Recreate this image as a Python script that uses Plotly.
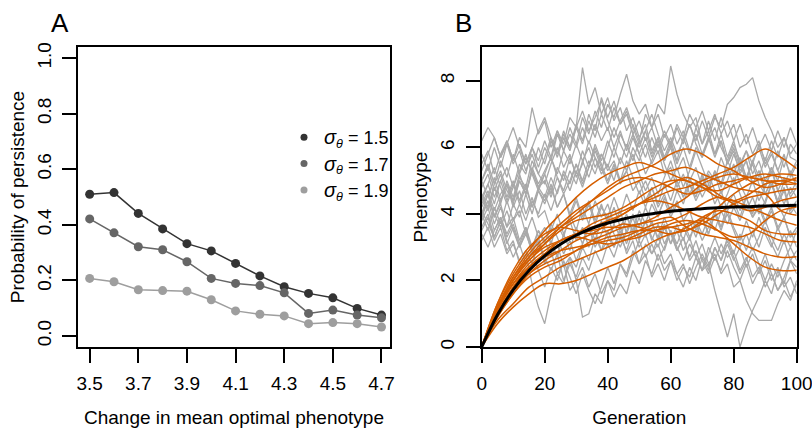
import plotly.graph_objects as go

# ---------------- Panel A data ----------------
change = [3.5, 3.6, 3.7, 3.8, 3.9, 4.0, 4.1, 4.2, 4.3, 4.4, 4.5, 4.6, 4.7]
p_15 = [0.510, 0.516, 0.441, 0.385, 0.332, 0.306, 0.261, 0.216, 0.177, 0.153, 0.137, 0.099, 0.075]
p_17 = [0.421, 0.371, 0.321, 0.310, 0.267, 0.207, 0.189, 0.181, 0.155, 0.081, 0.093, 0.075, 0.065]
p_19 = [0.207, 0.195, 0.166, 0.163, 0.161, 0.130, 0.090, 0.078, 0.072, 0.044, 0.048, 0.044, 0.032]
labels_A = ["1.5", "1.7", "1.9"]
colors_A = ["#333333", "#666666", "#9e9e9e"]
xticks_A = [3.5, 3.7, 3.9, 4.1, 4.3, 4.5, 4.7]
yticks_A = [0.0, 0.2, 0.4, 0.6, 0.8, 1.0]

# ---------------- Panel B data ----------------
# gray trajectories, one value every 2 generations (0..100)
gray_lines = [
    [4.5,4.9,4.3,5.0,5.4,4.8,5.5,5.2,6.0,5.6,6.2,5.7,6.5,6.1,6.9,6.6,8.4,7.3,7.8,7.0,7.5,6.8,7.2,6.5,6.9,6.3,6.7,5.9,6.3,5.6,6.0,5.3,5.7,5.0,5.4,4.8,5.3,5.0,5.7,5.2,5.8,5.3,5.6,4.9,5.3,4.8,5.4,5.0,5.7,5.2,5.6],
    [4.0,4.6,3.9,4.4,4.9,4.3,5.0,4.6,5.3,4.8,5.2,4.6,5.4,5.0,5.7,5.2,5.9,5.4,6.1,5.6,6.2,5.7,6.4,6.0,6.7,6.2,7.0,6.6,7.3,7.0,8.45,7.6,7.0,6.6,6.9,6.1,6.5,5.8,6.2,5.5,5.9,5.2,5.6,4.9,5.3,4.6,5.0,4.3,4.8,4.1,4.4],
    [5.0,5.4,4.7,5.2,4.5,5.0,4.4,4.9,4.2,4.8,4.5,5.1,4.6,5.3,4.9,5.5,5.0,5.6,5.2,5.8,5.4,6.0,5.5,6.1,5.6,6.2,5.7,6.3,5.8,6.4,6.0,6.6,6.1,6.7,6.2,6.8,6.3,6.9,6.6,7.3,7.5,7.8,7.9,8.1,7.4,6.9,6.5,6.0,6.3,5.7,5.6],
    [4.0,3.5,4.2,3.7,4.4,3.8,4.1,3.4,3.9,3.3,3.6,3.1,3.7,3.3,4.0,3.5,4.2,3.7,4.4,3.9,4.3,3.7,4.1,3.4,3.9,3.3,3.8,3.2,3.7,3.1,3.5,2.9,3.3,2.6,2.9,2.3,2.5,1.7,1.0,0.3,1.0,0.0,0.6,1.1,1.5,2.0,1.6,2.3,1.9,2.6,2.4],
    [3.5,3.9,3.2,3.6,2.9,3.2,2.5,2.8,1.9,1.2,0.7,1.6,2.2,1.9,2.7,2.4,3.0,2.6,3.3,2.9,3.5,3.0,3.6,3.1,3.7,3.2,3.8,3.3,3.0,3.6,3.1,3.7,3.2,3.8,3.3,3.9,3.4,4.0,3.5,4.1,3.6,3.2,3.8,3.3,3.9,3.4,3.0,3.6,3.1,3.5,3.0],
    [4.2,4.6,3.9,4.3,3.6,3.9,3.2,3.6,2.9,3.2,2.5,2.9,2.2,2.5,1.7,2.0,0.9,1.0,1.6,1.3,2.0,1.7,2.5,2.2,2.9,2.5,3.1,2.8,3.3,2.9,3.5,3.1,3.6,3.2,3.8,3.4,3.9,3.5,4.1,3.7,4.2,3.8,4.3,3.9,4.2,3.7,4.1,3.5,3.9,3.3,3.6],
    [4.8,5.2,4.5,5.0,4.4,4.9,4.3,4.8,4.2,4.7,4.4,4.9,4.2,4.6,4.0,4.5,3.9,4.4,3.8,4.3,3.7,4.2,3.6,4.0,3.4,3.9,3.3,3.8,3.2,3.7,3.1,3.5,2.9,3.3,2.7,3.1,2.5,2.8,2.2,2.5,1.8,2.0,1.4,1.0,0.8,0.8,0.8,1.3,1.7,1.4,2.0],
    [5.5,5.9,5.2,5.8,6.2,5.6,6.1,5.5,6.0,5.4,6.0,5.6,6.4,5.9,6.6,6.1,6.9,6.4,7.1,6.6,7.3,6.9,7.6,8.2,7.4,7.0,7.3,6.6,7.0,6.3,6.7,6.1,6.5,5.9,6.4,5.8,6.3,5.7,6.2,5.5,6.0,5.4,5.9,5.5,6.1,5.6,6.2,5.7,6.3,5.8,6.1],
    [6.2,6.6,6.3,5.7,6.2,5.6,6.3,6.0,7.2,6.4,6.8,6.0,6.5,5.9,6.4,6.0,6.6,6.1,6.7,6.2,6.6,6.0,6.5,5.9,6.4,5.8,6.3,5.7,6.2,5.6,6.1,5.5,6.0,5.4,6.0,5.7,6.3,5.8,6.4,5.7,6.2,5.5,5.9,5.2,5.6,5.0,5.4,4.7,5.1,4.5,4.8],
    [3.2,3.6,3.0,3.4,2.8,3.1,2.6,2.9,2.5,3.1,2.7,2.3,2.8,2.0,2.5,2.1,2.7,2.3,2.9,2.5,3.1,2.7,3.3,2.9,3.5,3.0,3.4,2.8,3.1,2.5,2.8,2.2,2.5,1.9,2.4,2.8,2.4,3.0,2.6,3.1,2.6,3.0,2.4,2.8,2.2,2.6,2.0,2.4,1.8,2.1,1.6],
    [4.5,4.1,4.8,4.3,5.0,4.5,5.2,4.6,5.3,4.8,5.0,4.5,5.1,4.7,5.3,4.9,5.6,5.1,5.7,5.2,5.5,5.0,5.7,5.3,6.0,5.6,6.1,5.5,5.9,5.2,5.4,4.8,5.2,4.6,5.0,4.5,4.9,4.3,4.7,4.1,4.4,3.9,4.5,4.0,4.7,4.3,4.9,4.4,5.0,4.6,5.0],
    [4.0,4.4,3.7,4.2,3.6,4.3,3.9,4.6,4.0,4.7,4.3,4.8,4.2,4.6,3.9,4.4,3.8,4.3,3.7,4.2,3.9,4.5,4.0,4.6,4.1,4.7,4.2,4.8,4.3,4.9,4.4,5.0,4.5,5.1,4.6,5.2,4.7,5.3,4.8,5.4,4.9,5.5,5.0,5.6,5.1,5.7,5.2,5.9,5.4,6.1,5.8],
    [5.0,5.5,4.9,5.6,5.1,5.8,5.2,5.7,5.3,6.0,5.5,6.2,5.7,6.3,5.9,6.6,6.1,6.8,6.3,7.0,6.5,7.2,6.7,7.0,6.4,6.8,6.2,6.6,6.0,6.5,6.1,6.7,6.3,7.0,6.6,7.1,6.5,7.0,6.4,6.8,6.2,6.7,6.1,6.6,6.0,6.4,5.9,6.5,6.0,6.6,6.1],
    [3.8,4.2,3.5,3.9,3.3,3.7,3.1,3.6,3.0,3.5,3.2,2.7,3.1,2.4,2.7,2.0,2.4,1.8,2.2,1.6,2.0,1.5,1.9,1.6,2.3,1.9,2.6,2.2,2.8,2.3,2.6,2.0,2.4,2.1,2.7,2.3,3.0,2.6,3.1,2.7,2.9,2.3,2.7,2.1,2.4,1.8,2.2,1.7,2.0,1.5,1.9],
    [4.3,4.7,4.1,4.6,4.9,4.4,5.0,4.6,5.4,4.9,5.3,5.7,5.2,5.9,5.5,6.1,5.6,6.0,5.4,5.8,5.3,5.6,5.0,5.3,4.7,5.0,4.4,4.8,4.2,4.6,4.0,4.4,3.8,4.1,3.5,3.9,3.4,4.0,3.6,4.3,4.6,4.1,4.5,3.9,4.3,3.8,4.2,3.6,3.9,3.3,3.6],
    [5.0,4.5,5.1,4.4,4.9,4.2,4.7,4.0,4.5,3.9,4.1,3.5,4.0,3.4,3.8,3.2,3.6,3.0,3.5,2.9,3.2,3.7,3.3,3.9,3.5,4.1,3.7,4.3,3.9,4.5,4.1,4.7,4.3,4.9,4.5,5.1,4.7,5.3,4.9,5.6,5.2,5.7,5.1,5.5,4.9,4.6,5.0,4.3,4.7,4.0,4.3],
    [3.6,4.0,3.3,3.8,3.1,3.6,3.0,3.5,2.8,3.3,2.6,3.2,2.7,3.4,2.9,3.6,3.1,3.7,3.2,3.8,3.3,3.0,3.5,2.8,3.2,2.5,2.8,2.1,2.5,2.0,2.6,2.2,1.8,2.4,2.0,2.7,2.3,3.0,2.6,3.3,2.8,3.4,2.9,3.5,3.0,3.6,3.1,2.7,3.2,2.6,2.9],
    [5.8,5.3,6.0,5.4,6.1,5.5,5.9,5.3,5.8,5.2,5.7,6.3,5.8,6.5,6.0,6.7,6.2,7.0,6.5,7.5,6.9,7.4,6.7,7.1,6.4,6.0,6.5,5.8,6.3,5.7,6.2,5.6,6.3,5.8,6.6,6.1,6.8,6.2,6.9,6.3,6.7,6.0,6.4,5.8,6.2,5.5,5.9,5.3,5.8,5.1,5.5],
    [4.6,4.2,4.9,5.3,4.7,4.4,5.1,4.8,5.6,5.2,4.9,5.5,6.0,5.4,5.8,5.1,5.5,6.2,5.7,5.3,6.0,6.6,6.1,5.7,6.3,5.8,5.2,5.6,6.1,5.5,5.0,5.4,4.8,5.3,5.9,5.4,4.9,5.2,4.6,5.0,5.5,4.9,4.5,5.0,4.4,4.8,5.3,4.7,4.3,4.8,4.5],
    [3.9,4.4,4.0,3.6,4.1,3.5,3.0,3.4,2.9,3.5,3.1,3.7,3.3,2.8,3.2,2.6,3.1,3.6,3.0,3.4,3.9,3.4,3.0,3.5,4.0,3.6,4.2,3.7,3.3,3.9,3.4,2.9,3.3,2.7,3.2,2.6,2.2,2.7,2.3,2.9,2.4,2.0,2.5,1.9,2.3,2.8,2.2,1.7,2.1,2.6,2.2],
    [5.3,5.8,6.3,5.7,6.1,6.6,6.0,5.5,6.0,6.5,6.9,6.3,5.8,6.4,6.0,6.6,7.1,6.5,6.9,7.4,6.8,6.3,6.8,7.2,6.6,6.1,6.5,7.0,6.4,5.9,6.3,5.8,6.2,6.7,6.1,5.7,6.2,6.6,6.0,5.6,6.1,5.6,5.1,5.6,6.0,5.4,5.8,5.3,4.9,5.3,4.8],
    [4.1,3.7,3.3,3.8,3.2,2.7,3.1,2.5,2.9,2.3,1.8,2.4,2.0,2.6,2.1,1.6,2.2,1.7,1.3,1.8,2.4,1.9,2.5,2.1,2.7,3.2,2.7,3.1,2.6,3.0,3.5,3.0,2.6,3.1,2.7,2.3,2.8,3.3,2.8,3.2,2.7,2.2,2.6,3.0,2.5,2.0,2.5,2.1,2.6,3.0,2.6],
    [4.4,4.9,5.4,4.8,4.3,4.8,5.3,5.8,5.2,4.7,5.2,5.7,5.1,4.6,5.0,5.5,4.9,5.4,6.0,5.5,5.0,5.5,4.9,5.3,5.8,5.2,4.7,5.1,4.6,5.1,5.6,5.0,4.5,4.9,4.4,4.8,5.2,4.7,4.2,4.6,5.1,4.6,4.1,4.5,4.0,4.4,4.9,4.3,3.9,4.3,4.0],
    [3.4,3.0,3.5,3.9,3.4,3.8,4.3,3.8,4.4,4.0,4.6,4.1,4.7,5.2,4.7,5.3,4.8,5.4,5.9,5.4,4.9,5.4,5.0,5.6,5.1,4.6,5.0,4.5,4.0,4.4,3.9,4.3,3.8,3.3,3.7,3.2,3.6,4.1,3.6,4.0,3.5,3.0,3.4,2.9,3.3,3.8,3.3,2.9,3.4,3.0,3.5],
]
# orange trajectories, one value every 5 generations (0..100)
orange_lines = [
    [0,1.2,2.0,2.6,3.1,3.6,4.0,4.4,4.8,5.1,5.3,5.5,5.8,5.95,5.8,5.5,5.3,5.0,4.8,4.9,5.1],
    [0,1.0,1.8,2.4,2.8,3.2,3.4,3.6,3.8,4.0,4.3,4.5,4.7,4.8,5.0,5.2,5.4,5.7,5.95,5.7,5.36],
    [0,1.3,2.2,2.9,3.5,4.0,4.5,4.9,5.2,5.4,5.55,5.4,5.2,5.0,4.8,4.5,4.4,4.6,4.9,5.0,4.9],
    [0,0.8,1.3,1.8,2.1,2.4,2.6,2.8,3.0,3.2,3.3,3.5,3.6,3.7,3.8,3.5,3.1,2.7,2.4,2.3,2.31],
    [0,0.7,1.2,1.6,1.9,1.9,2.0,2.2,2.4,2.6,2.9,3.2,3.4,3.5,3.7,4.0,4.3,4.5,4.6,4.7,4.76],
    [0,1.1,1.9,2.5,2.9,3.2,3.4,3.5,3.6,3.6,3.7,3.8,3.9,3.6,3.4,3.3,3.2,3.0,2.8,2.7,2.71],
    [0,1.2,2.1,2.8,3.3,3.7,4.1,4.4,4.7,5.0,5.1,5.0,4.8,4.6,4.7,4.9,5.0,5.1,5.0,5.0,5.06],
    [0,1.0,1.7,2.2,2.5,2.7,2.9,3.2,3.4,3.6,3.7,3.9,4.2,4.5,4.9,5.1,5.2,5.1,5.0,4.9,4.91],
    [0,1.1,1.9,2.4,2.7,2.9,3.0,3.1,3.2,3.3,3.5,3.7,3.8,4.0,4.3,4.5,4.4,4.2,4.0,3.8,3.66],
    [0,1.3,2.3,3.0,3.4,3.6,3.5,3.4,3.5,3.7,3.6,3.5,3.7,3.8,3.7,3.5,3.3,3.4,3.8,4.1,4.21],
    [0,0.9,1.6,2.2,2.6,2.9,3.2,3.4,3.7,4.0,4.3,4.6,4.9,5.1,4.9,4.6,4.3,4.1,4.2,4.4,4.51],
    [0,1.2,2.0,2.6,3.0,3.2,3.4,3.7,3.9,4.1,4.3,4.4,4.3,4.1,3.9,3.8,3.7,3.6,3.4,3.2,3.16],
    [0,1.0,1.8,2.4,2.8,3.1,3.3,3.2,3.1,3.2,3.4,3.6,3.6,3.5,3.8,4.2,4.6,4.9,5.1,5.2,5.16],
    [0,1.1,2.0,2.7,3.2,3.6,3.9,4.2,4.5,4.8,5.0,5.2,5.3,5.4,5.2,5.0,4.8,4.7,4.6,4.1,3.96],
    [0,0.9,1.6,2.1,2.4,2.6,2.9,3.1,3.3,3.4,3.5,3.5,3.4,3.6,3.9,4.1,4.0,3.8,3.5,3.4,3.4],
    [0,1.2,2.1,2.7,3.1,3.5,3.8,3.9,4.0,4.2,4.5,4.8,5.0,5.0,4.8,4.7,4.9,5.1,5.2,5.1,5.0],
]
# mean trajectory, every 5 generations
mean_line = [0,0.97,1.72,2.30,2.74,3.09,3.36,3.57,3.73,3.85,3.95,4.02,4.08,4.13,4.16,4.19,4.21,4.22,4.24,4.25,4.26]
xticks_B = [0, 20, 40, 60, 80, 100]
yticks_B = [0, 2, 4, 6, 8]

FONT = "Liberation Sans, Arial, Helvetica, sans-serif"
W, H = 812, 431

def px_x(p):
    return p / W

def px_y(p):
    return 1 - p / H

fig = go.Figure()

# ---- Panel A traces ----
for vals, lab, col in zip([p_15, p_17, p_19], labels_A, colors_A):
    fig.add_trace(go.Scatter(x=change, y=vals, mode="lines+markers",
                             line=dict(color=col, width=1.5),
                             marker=dict(color=col, size=9),
                             showlegend=False, xaxis="x", yaxis="y"))
for lab, col in zip(labels_A, colors_A):
    fig.add_trace(go.Scatter(x=[None], y=[None], mode="markers",
                             marker=dict(color=col, size=7),
                             name="<span style='font-size:20px'><i>σ</i></span><sub><i>θ</i></sub> = " + lab,
                             legendgroup=lab, showlegend=True,
                             xaxis="x", yaxis="y"))

# ---- Panel B traces ----
for g in gray_lines:
    fig.add_trace(go.Scatter(x=list(range(0, 2 * len(g), 2)), y=g, mode="lines",
                             line=dict(color="#a9a9a9", width=1.3),
                             showlegend=False, hoverinfo="skip",
                             xaxis="x2", yaxis="y2"))
for o in orange_lines:
    fig.add_trace(go.Scatter(x=list(range(0, 5 * len(o), 5)), y=o, mode="lines",
                             line=dict(color="#d55e00", width=1.5, shape="spline", smoothing=1.0),
                             showlegend=False, hoverinfo="skip",
                             xaxis="x2", yaxis="y2"))
fig.add_trace(go.Scatter(x=list(range(0, 5 * len(mean_line), 5)), y=mean_line, mode="lines",
                         line=dict(color="black", width=3, shape="spline", smoothing=1.0),
                         showlegend=False, hoverinfo="skip",
                         xaxis="x2", yaxis="y2"))

TITLE_FONT = dict(family=FONT, size=19, color="black")
axis_common = dict(showline=True, mirror=True, linecolor="black", linewidth=1.5,
                   ticks="outside", ticklen=14, tickwidth=1.5, tickcolor="black",
                   showgrid=False, zeroline=False, automargin=False,
                   ticklabeloverflow="allow", ticklabelstandoff=4,
                   tickfont=dict(family=FONT, size=19, color="black"))

fig.update_layout(
    width=W, height=H,
    margin=dict(l=0, r=0, t=0, b=0),
    paper_bgcolor="white", plot_bgcolor="white",
    font=dict(family=FONT, color="black"),
    xaxis=dict(domain=[px_x(78), px_x(390)], range=[3.452, 4.735],
               tickvals=xticks_A, ticktext=[f"{v:.1f}" for v in xticks_A],
               anchor="y",
               title=dict(text="Change in mean optimal phenotype", font=TITLE_FONT, standoff=18),
               **axis_common),
    yaxis=dict(domain=[px_y(347), px_y(47)], range=[-0.04, 1.04],
               tickvals=yticks_A, ticktext=[f"{v:.1f}" for v in yticks_A],
               tickangle=-90, anchor="x",
               title=dict(text="Probability of persistence", font=TITLE_FONT, standoff=4),
               **axis_common),
    xaxis2=dict(domain=[px_x(481.7), px_x(796.7)], range=[0, 100],
                tickvals=xticks_B, anchor="y2",
                title=dict(text="Generation", font=TITLE_FONT, standoff=18),
                **axis_common),
    yaxis2=dict(domain=[px_y(347), px_y(47)], range=[0, 9.02],
                tickvals=yticks_B, tickangle=-90, anchor="x2",
                title=dict(text="Phenotype", font=TITLE_FONT, standoff=5),
                **axis_common),
    legend=dict(x=px_x(284), y=px_y(119), xanchor="left", yanchor="top",
                bgcolor="rgba(0,0,0,0)", borderwidth=0,
                font=dict(family=FONT, size=18, color="black"),
                tracegroupgap=0, itemwidth=30),
)

for txt, xc in [("A", 60), ("B", 463)]:
    fig.add_annotation(text=txt, x=px_x(xc), y=px_y(23), xref="paper", yref="paper",
                       xanchor="center", yanchor="middle", showarrow=False,
                       font=dict(family=FONT, size=26, color="black"))

fig.write_html("out.html")
